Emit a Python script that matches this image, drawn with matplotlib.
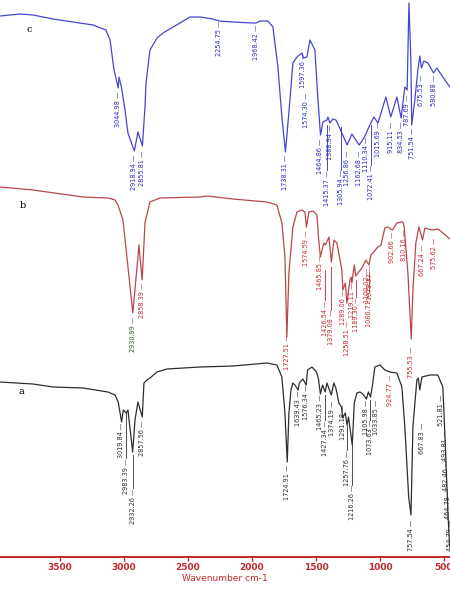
import numpy as np
import matplotlib.pyplot as plt

# ---- spectrum c (top, blue) ----
wn_c = [3969, 3812, 3711, 3555, 3398, 3242, 3141, 3109, 3078, 3045,
        3039, 3020, 2992, 2969, 2919, 2891, 2856, 2836, 2828, 2797,
        2742, 2695, 2562, 2484, 2406, 2305, 2254, 2148, 1992, 1968,
        1938, 1875, 1836, 1797, 1766, 1738, 1703, 1680, 1648, 1609,
        1597, 1570, 1547, 1508, 1484, 1464, 1445, 1414, 1406, 1391,
        1367, 1344, 1328, 1297, 1256, 1219, 1188, 1162, 1125, 1102,
        1086, 1047, 1015, 984, 953, 915, 867, 834, 805, 787,
        773, 758, 751, 727, 703, 688, 675, 656, 625, 580,
        555, 508, 453]
tr_c = [541, 543, 542, 538, 535, 532, 527, 517, 487, 469,
        480, 470, 447, 424, 406, 425, 411, 450, 474, 507,
        519, 524, 534, 540, 540, 538, 536, 535, 534, 534,
        536, 536, 530, 490, 440, 405, 457, 494, 500, 504,
        499, 500, 517, 507, 457, 422, 435, 437, 440, 434,
        438, 437, 433, 424, 412, 423, 417, 412, 419, 425,
        430, 440, 434, 447, 460, 440, 460, 439, 470, 467,
        554, 497, 432, 457, 487, 501, 489, 496, 494, 484,
        489, 480, 470]

# ---- spectrum b (middle, red) ----
wn_b = [3969, 3711, 3320, 3125, 3070, 3047, 3008, 2977, 2931, 2898,
        2883, 2858, 2836, 2797, 2719, 2406, 2352, 2148, 1883, 1805,
        1766, 1742, 1727, 1711, 1680, 1648, 1609, 1586, 1574, 1555,
        1523, 1492, 1480, 1465, 1438, 1426, 1398, 1379, 1359, 1336,
        1297, 1289, 1270, 1258, 1234, 1225, 1219, 1200, 1189, 1141,
        1109, 1086, 1070, 1047, 1023, 992, 961, 938, 902, 867,
        828, 820, 810, 781, 755, 742, 719, 695, 667, 648,
        594, 547, 508, 453]
tr_b = [370, 367, 360, 359, 357, 352, 337, 300, 244, 290,
        312, 277, 334, 355, 359, 360, 361, 358, 355, 352,
        334, 300, 220, 284, 330, 345, 347, 345, 330, 345,
        346, 342, 320, 300, 314, 312, 320, 295, 317, 314,
        287, 267, 274, 254, 277, 280, 274, 292, 281, 289,
        297, 292, 302, 305, 309, 312, 329, 330, 327, 334,
        335, 335, 330, 284, 218, 267, 314, 330, 317, 329,
        327, 328, 324, 318]

# ---- spectrum a (bottom, black) ----
wn_a = [3969, 3711, 3555, 3320, 3125, 3070, 3045, 3019, 3005, 2983,
        2969, 2932, 2914, 2891, 2857, 2844, 2820, 2797, 2742, 2664,
        2406, 2148, 1883, 1805, 1766, 1742, 1724, 1711, 1695, 1680,
        1664, 1639, 1630, 1602, 1576, 1565, 1531, 1495, 1480, 1465,
        1448, 1427, 1414, 1380, 1360, 1344, 1320, 1300, 1291, 1270,
        1257, 1245, 1216, 1200, 1180, 1156, 1133, 1105, 1090, 1073,
        1060, 1039, 1000, 961, 924, 867, 828, 805, 775, 757,
        742, 711, 700, 688, 672, 609, 547, 531, 508, 500,
        484, 469, 455]
tr_a = [175, 173, 170, 169, 165, 162, 155, 135, 147, 144,
        147, 105, 137, 155, 140, 174, 177, 179, 185, 188,
        190, 191, 194, 192, 180, 144, 95, 144, 167, 174,
        172, 167, 174, 178, 172, 187, 190, 185, 178, 163,
        172, 165, 174, 162, 174, 169, 154, 150, 139, 144,
        132, 140, 112, 154, 164, 165, 163, 158, 165, 160,
        170, 190, 192, 187, 185, 184, 170, 130, 60, 42,
        130, 177, 179, 167, 180, 182, 182, 177, 170, 147,
        97, 47, 10]

# ---- peak labels: text, top of label, top of leader line ----
lab_c_txt = ['3044.98', '2918.94', '2855.81', '2254.75', '1968.42', '1738.31',
             '1597.36', '1574.30', '1464.86', '1415.37', '1388.94', '1305.94',
             '1256.86', '1162.68', '1110.34', '1072.41', '1015.69', '915.11',
             '834.53', '787.69', '751.54', '675.53', '580.88']
lab_c_y = [465, 402, 407, 537, 533, 402, 504, 464, 419, 387, 432, 387,
           407, 407, 420, 392, 435, 435, 435, 462, 429, 482, 482]
lab_c_line = [None, None, None, None, None, None, None, None, None, 432, None, 430,
              None, None, None, 432, None, None, None, None, None, None, None]

lab_b_txt = ['2930.99', '2858.39', '1727.51', '1574.59', '1465.85', '1426.54',
             '1379.08', '1289.06', '1258.51', '1219.11', '1189.30', '1100.02',
             '1079.37', '1086.71', '902.66', '810.16', '755.53', '667.24', '575.62']
lab_b_y = [240, 274, 222, 327, 302, 257, 247, 267, 237, 275, 260, 289,
           292, 265, 325, 327, 210, 312, 319]
lab_b_line = [None, None, None, None, None, 287, 290, None, None, None, 277, None,
              None, 285, None, None, None, None, None]

lab_a_txt = ['3019.84', '2983.39', '2932.26', '2857.56', '1724.91', '1639.43',
             '1576.34', '1465.23', '1427.34', '1374.19', '1291.18', '1257.76',
             '1216.26', '1105.98', '1073.63', '1033.85', '924.77', '757.54',
             '667.83', '521.81', '493.81', '482.46', '464.78', '454.79']
lab_a_y = [134, 99, 69, 137, 92, 167, 172, 162, 137, 157, 152, 107,
           72, 157, 137, 157, 182, 37, 134, 162, 127, 97, 69, 37]
lab_a_line = [None, 144, 102, None, None, None, None, None, 162, None, None, 132,
              112, None, 157, None, None, None, None, None, None, None, None, None]

blue = '#4646d2'
blue_txt = '#2b2bc0'
red = '#b8474a'
red_txt = '#c02a30'
black = '#2e2e2e'
green_txt = '#2f5a2f'
axis_red = '#c0282d'

label_font = ['Liberation Sans Narrow', 'DejaVu Sans']

fig = plt.figure(figsize=(4.5, 5.92), dpi=100)
ax = fig.add_axes([0, 35 / 592, 1, 557 / 592])

ax.plot(wn_c, tr_c, color=blue, lw=0.9)
ax.plot(wn_b, tr_b, color=red, lw=0.9)
ax.plot(wn_a, tr_a, color=black, lw=0.9)


def put_labels(texts, ys, lines, color):
    for t, y, top in zip(texts, ys, lines):
        w = float(t)
        c = color
        if t == '2930.99':
            c = green_txt
        if t == '924.77':
            c = red_txt
        ax.text(w, y, t + ' —', rotation=90, ha='center', va='top',
                fontsize=4.7, color=c, family=label_font)
        if top is not None:
            ax.plot([w, w], [y, top], color=c, lw=0.6)


put_labels(lab_c_txt, lab_c_y, lab_c_line, blue_txt)
put_labels(lab_b_txt, lab_b_y, lab_b_line, red_txt)
put_labels(lab_a_txt, lab_a_y, lab_a_line, black)

ax.text(3742, 528, 'c', fontsize=7, family='DejaVu Serif', ha='center', va='center')
ax.text(3789, 351, 'b', fontsize=7, family='DejaVu Serif', ha='center', va='center')
ax.text(3805, 166, 'a', fontsize=7, family='DejaVu Serif', ha='center', va='center')

ax.set_xlim(3969, 452)
ax.set_ylim(0, 557)
ax.set_yticks([])
for s in ['left', 'right', 'top']:
    ax.spines[s].set_visible(False)
ax.spines['bottom'].set_color(axis_red)
ax.spines['bottom'].set_linewidth(1.4)
ax.set_xticks([3500, 3000, 2500, 2000, 1500, 1000, 500])
ax.tick_params(axis='x', direction='out', length=3, width=1, color=axis_red,
               labelcolor=axis_red, labelsize=6.5, pad=1.5)
for lbl in ax.get_xticklabels():
    lbl.set_fontweight('bold')
ax.set_xlabel('Wavenumber cm-1', fontsize=6.5, color=axis_red, labelpad=1)
ax.set_facecolor('white')

plt.savefig('out.png', dpi=100)
